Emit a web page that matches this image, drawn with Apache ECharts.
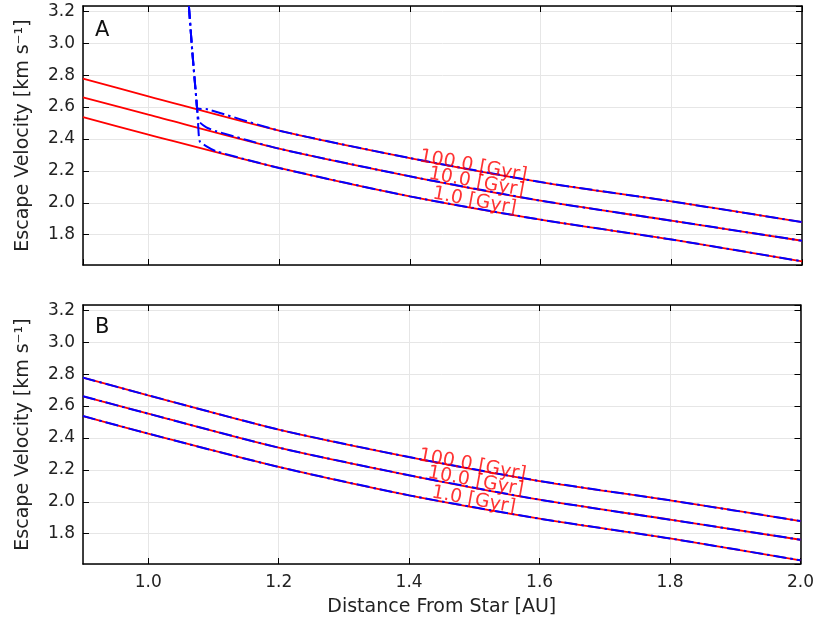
<!DOCTYPE html>
<html>
<head>
<meta charset="utf-8">
<script src="https://cdn.jsdelivr.net/npm/echarts@6/dist/echarts.min.js"></script>
<style>html,body{margin:0;padding:0;background:#fff;}#c{width:817px;height:626px;}</style>
</head>
<body>
<div id="c"></div>
<script>
// Distances [AU]
const rVals = [0.9, 1.0, 1.2, 1.4, 1.6, 1.8, 2.0];
// Escape velocity contours [km/s]
const v100 = [2.778, 2.667, 2.452, 2.280, 2.130, 2.009, 1.879];
const v10  = [2.661, 2.552, 2.339, 2.166, 2.013, 1.888, 1.762];
const v1   = [2.537, 2.427, 2.218, 2.040, 1.894, 1.770, 1.633];
// Panel A blue contours: near-vertical part before joining the curves
const blueA100Head = [[1.062, 3.233], [1.067, 2.958], [1.0735, 2.645], [1.075, 2.592], [1.09, 2.586]];
const blueA10Head  = [[1.062, 3.233], [1.067, 2.958], [1.0735, 2.645], [1.0776, 2.51], [1.0887, 2.473], [1.104, 2.448]];
const blueA1Head   = [[1.062, 3.233], [1.067, 2.958], [1.0735, 2.645], [1.076, 2.50], [1.0786, 2.385], [1.089, 2.354], [1.104, 2.322]];
// Contour labels
const contourLabels = ['100.0 [Gyr]', '10.0 [Gyr]', '1.0 [Gyr]'];
const labelX = [1.497, 1.502, 1.499];
const labelY = [2.229, 2.127, 2.010];
const panelNames = ['A', 'B'];

const X_MIN = 0.9, X_MAX = 2.0, Y_MIN = 1.61, Y_MAX = 3.233;
const FONT = 'DejaVu Sans';
const RED = '#ff0000', BLUE = '#0000ff';

const pairs = (xs, ys) => xs.map((x, i) => [x, ys[i]]);
const tailFrom = (ys, rMin) => pairs(rVals, ys).filter(p => p[0] >= rMin);

const grids = [
  {left: 83, right: 15, top: 6, height: 259},
  {left: 83, right: 15, top: 305, height: 259}
];

function xAx(gi, pos, showLabels) {
  return {
    type: 'value', gridIndex: gi, position: pos, min: X_MIN, max: X_MAX, splitNumber: 5,
    axisLine: {show: true, onZero: false, lineStyle: {color: '#000', width: 1.5}},
    axisTick: {show: true, inside: true, length: 6, lineStyle: {color: '#000', width: 1}},
    axisLabel: {show: showLabels, showMinLabel: false, margin: 10, color: '#222', fontFamily: FONT, fontSize: 17,
      formatter: v => v.toFixed(1)},
    splitLine: {show: pos === 'bottom', lineStyle: {color: '#e6e6e6', width: 1}},
    name: (gi === 1 && pos === 'bottom') ? 'Distance From Star [AU]' : '',
    nameLocation: 'middle', nameGap: 34,
    nameTextStyle: {color: '#222', fontFamily: FONT, fontSize: 19}
  };
}
function yAx(gi, pos, showLabels) {
  return {
    type: 'value', gridIndex: gi, position: pos, min: Y_MIN, max: Y_MAX, splitNumber: 8,
    axisLine: {show: true, onZero: false, lineStyle: {color: '#000', width: 1.5}},
    axisTick: {show: true, inside: true, length: 6, lineStyle: {color: '#000', width: 1}},
    axisLabel: {show: showLabels, showMinLabel: false, showMaxLabel: false, margin: 8, color: '#222', fontFamily: FONT, fontSize: 17,
      formatter: v => v.toFixed(1)},
    splitLine: {show: pos === 'left', lineStyle: {color: '#e6e6e6', width: 1}},
    name: pos === 'left' ? 'Escape Velocity [km s\u207B\u00B9]' : '',
    nameLocation: 'middle', nameGap: 50,
    nameTextStyle: {color: '#222', fontFamily: FONT, fontSize: 19}
  };
}

const xAxes = [xAx(0, 'bottom', false), xAx(1, 'bottom', true), xAx(0, 'top', false), xAx(1, 'top', false)];
const yAxes = [yAx(0, 'left', true), yAx(1, 'left', true), yAx(0, 'right', false), yAx(1, 'right', false)];

const series = [];
const redSets = [v100, v10, v1];
function redLine(ys, gi) {
  return {type: 'line', xAxisIndex: gi, yAxisIndex: gi, data: pairs(rVals, ys), smooth: 0.3,
    symbol: 'none', lineStyle: {color: RED, width: 1.8}, z: 2, silent: true};
}
function blueLine(data, gi) {
  return {type: 'line', xAxisIndex: gi, yAxisIndex: gi, data: data, smooth: 0.2,
    symbol: 'none', lineStyle: {color: BLUE, width: 2, type: [13, 4, 2.5, 4]}, z: 3, silent: true};
}
// Panel A
redSets.forEach(ys => series.push(redLine(ys, 0)));
series.push(blueLine(blueA100Head.concat(tailFrom(v100, 1.15)), 0));
series.push(blueLine(blueA10Head.concat(tailFrom(v10, 1.15)), 0));
series.push(blueLine(blueA1Head.concat(tailFrom(v1, 1.15)), 0));
// Panel B
redSets.forEach(ys => series.push(redLine(ys, 1)));
redSets.forEach(ys => series.push(blueLine(pairs(rVals, ys), 1)));
// Contour labels
[0, 1].forEach(gi => {
  series.push({
    type: 'scatter', xAxisIndex: gi, yAxisIndex: gi, symbolSize: 0, z: 6, silent: true,
    data: contourLabels.map((t, i) => ({name: t, value: [labelX[i], labelY[i]]})),
    label: {show: true, position: 'inside', formatter: p => p.name, rotate: -10.4,
      color: RED, fontFamily: FONT, fontSize: 19, align: 'center', verticalAlign: 'middle'}
  });
});

const chart = echarts.init(document.getElementById('c'), null, {renderer: 'canvas'});
chart.setOption({
  animation: false,
  backgroundColor: '#fff',
  grid: grids,
  xAxis: xAxes,
  yAxis: yAxes,
  series: series,
  graphic: [
    {type: 'text', left: 95, top: 20, style: {text: panelNames[0], fontFamily: FONT, fontSize: 21, fill: '#111'}},
    {type: 'text', left: 95, top: 317, style: {text: panelNames[1], fontFamily: FONT, fontSize: 21, fill: '#111'}}
  ]
});
</script>
</body>
</html>
